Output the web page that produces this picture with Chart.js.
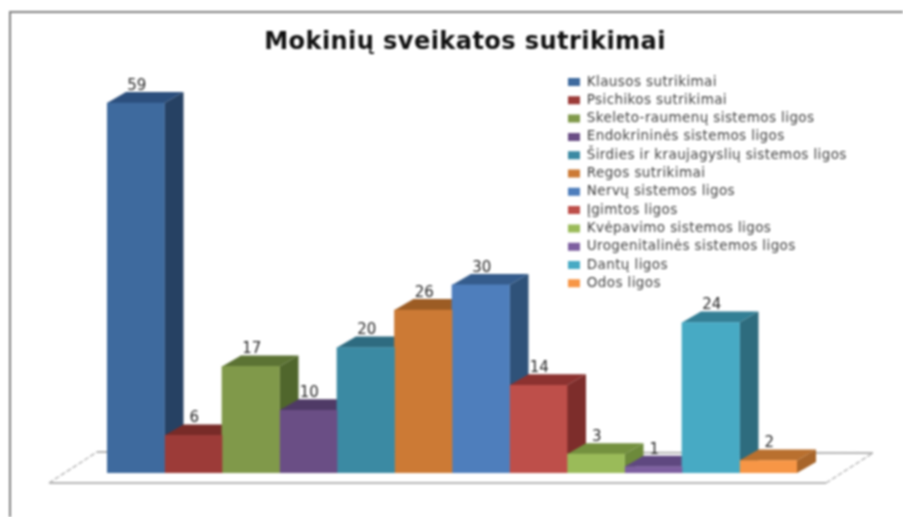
<!DOCTYPE html>
<html lang="lt">
<head>
<meta charset="utf-8">
<style>
html,body{margin:0;padding:0;background:#fff;overflow:hidden}
#wrap{width:903px;height:517px;position:relative}
canvas{display:block;filter:blur(1px)}
</style>
<script src="https://cdn.jsdelivr.net/npm/chart.js@4/dist/chart.umd.min.js"></script>
</head>
<body>
<div id="wrap"><canvas id="c" width="903" height="517"></canvas></div>
<script>
const chartTitle = "Mokinių sveikatos sutrikimai";
const categories = [""];
const seriesNames = [
  "Klausos sutrikimai",
  "Psichikos sutrikimai",
  "Skeleto-raumenų sistemos ligos",
  "Endokrininės sistemos ligos",
  "Širdies ir kraujagyslių sistemos ligos",
  "Regos sutrikimai",
  "Nervų sistemos ligos",
  "Įgimtos ligos",
  "Kvėpavimo sistemos ligos",
  "Urogenitalinės sistemos ligos",
  "Dantų ligos",
  "Odos ligos"
];
const seriesValues = [59, 6, 17, 10, 20, 26, 30, 14, 3, 1, 24, 2];
const frontColors = ["#3E6A9E","#9C3B38","#80994A","#6A4E85","#3B8AA3","#CC7A35","#4E7EBC","#BE4F4A","#9ABB59","#7D5FA0","#47AAC4","#F79646"];
const topColors   = ["#2C4F7D","#782B28","#5C7334","#4F3A66","#2E6B80","#9C5C24","#355C8C","#8C3230","#74913F","#5F4880","#337F95","#B9702F"];
const sideColors  = ["#264163","#6E2826","#50662C","#463359","#275B6D","#8A5220","#2F5279","#7D2D2B","#6D8A3B","#54406F","#2E6C7E","#A8652A"];

const DEPTH_X = 19, DEPTH_Y = 11;

function poly(ctx, pts, fill) {
  ctx.beginPath();
  pts.forEach((p, i) => i ? ctx.lineTo(p[0], p[1]) : ctx.moveTo(p[0], p[1]));
  ctx.closePath();
  ctx.fillStyle = fill;
  ctx.fill();
}

const scene3d = {
  id: "scene3d",
  afterLayout(chart) {
    const t = chart.titleBlock;
    if (t) { t.left = 18; t.right = 912; }
    const l = chart.legend;
    if (l) {
      const w = l.right - l.left, h = l.bottom - l.top;
      l.left = 563.2; l.right = l.left + w;
      l.top = 70.45; l.bottom = l.top + h;
    }
  },
  beforeDraw(chart) {
    chart.ctx.letterSpacing = "0.4px";
  },
  beforeDatasetsDraw(chart) {
    const ctx = chart.ctx;
    const base = chart.scales.y.getPixelForValue(0);
    ctx.save();
    // frame
    ctx.strokeStyle = "#808080";
    ctx.lineWidth = 2;
    ctx.beginPath();
    ctx.moveTo(10, 517); ctx.lineTo(10, 12); ctx.lineTo(903, 12);
    ctx.stroke();
    // floor, anchored to the plot base
    const fl = chart.chartArea.left, fr = chart.chartArea.right;
    ctx.strokeStyle = "#B5B5B5";
    ctx.lineWidth = 2;
    ctx.beginPath();
    ctx.moveTo(fl - 10, base - 21);
    ctx.lineTo(fr + 76, base - 20);
    ctx.stroke();
    ctx.beginPath();
    ctx.moveTo(fl - 58, base + 10);
    ctx.lineTo(fr + 29, base + 10);
    ctx.stroke();
    ctx.setLineDash([5, 2]);
    ctx.lineWidth = 1.4;
    ctx.beginPath();
    ctx.moveTo(fl - 58, base + 10); ctx.lineTo(fl - 10, base - 21);
    ctx.moveTo(fr + 29, base + 10); ctx.lineTo(fr + 76, base - 20);
    ctx.stroke();
    ctx.setLineDash([]);
    // extrusions, left to right
    chart.data.datasets.forEach((ds, i) => {
      const b = chart.getDatasetMeta(i).data[0];
      const x0 = b.x - b.width / 2, x1 = b.x + b.width / 2, y = b.y;
      const dx = DEPTH_X, dy = DEPTH_Y;
      poly(ctx, [[x1, y], [x1 + dx, y - dy], [x1 + dx, base - dy], [x1, base]], sideColors[i]);
      poly(ctx, [[x0, y], [x0 + dx, y - dy], [x1 + dx, y - dy], [x1, y]], topColors[i]);
    });
    ctx.restore();
  },
  afterDatasetsDraw(chart) {
    const ctx = chart.ctx;
    ctx.save();
    ctx.letterSpacing = "0px";
    ctx.font = "15px 'DejaVu Sans'";
    ctx.fillStyle = "#262626";
    ctx.textAlign = "center";
    ctx.textBaseline = "middle";
    chart.data.datasets.forEach((ds, i) => {
      const b = chart.getDatasetMeta(i).data[0];
      ctx.fillText(String(ds.data[0]), b.x + 1, b.y - 17);
    });
    ctx.restore();
  }
};

new Chart(document.getElementById("c"), {
  type: "bar",
  data: {
    labels: categories,
    datasets: seriesNames.map((name, i) => ({
      label: name,
      data: [seriesValues[i]],
      backgroundColor: frontColors[i],
      borderWidth: 0
    }))
  },
  options: {
    responsive: false,
    animation: false,
    devicePixelRatio: 1,
    categoryPercentage: 1,
    barPercentage: 1,
    layout: { padding: { left: 107, right: 106, top: 28, bottom: 44 } },
    scales: {
      x: { display: false },
      y: { display: false, min: 0, max: 60 }
    },
    plugins: {
      tooltip: { enabled: false },
      title: {
        display: true,
        text: chartTitle,
        color: "#111",
        font: { family: "'DejaVu Sans'", size: 24.1, weight: "bold", lineHeight: 1.2 },
        padding: { top: 0, bottom: 39.88 }
      },
      legend: {
        display: true,
        position: "chartArea",
        align: "start",
        labels: {
          boxWidth: 12,
          boxHeight: 8,
          padding: 4.8,
          color: "#404040",
          font: { family: "'DejaVu Sans'", size: 13.5, lineHeight: 1.2 }
        }
      }
    }
  },
  plugins: [scene3d]
});
</script>
</body>
</html>
